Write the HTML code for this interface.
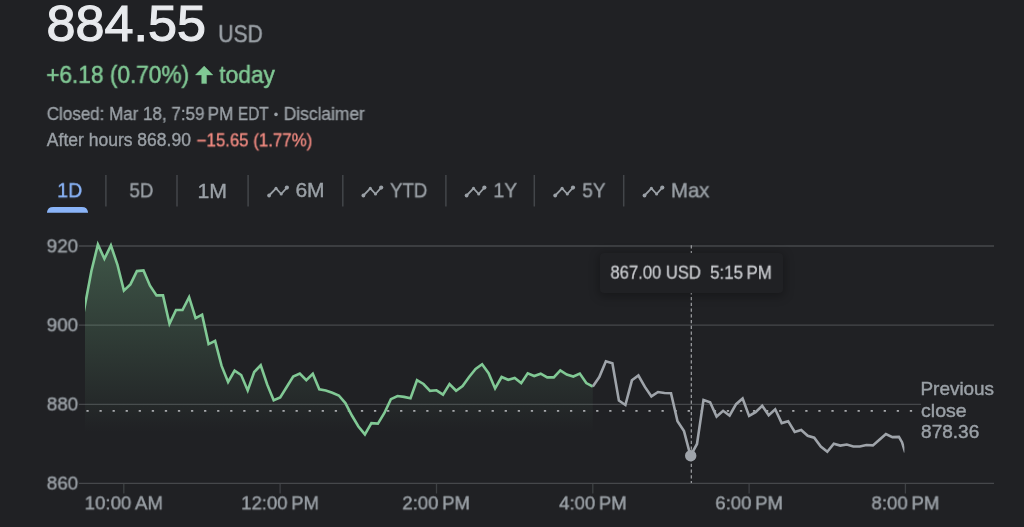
<!DOCTYPE html>
<html><head><meta charset="utf-8"><title>Stock</title>
<style>
html,body{margin:0;padding:0;background:#202124;}
body{width:1024px;height:527px;overflow:hidden;position:relative;font-family:"Liberation Sans",sans-serif;color:#9aa0a6;}
.t{will-change:transform;position:absolute;left:0;top:0;white-space:nowrap;line-height:1;transform-origin:0 0;}
svg{position:absolute;left:0;top:0;}
</style></head><body>
<svg width="1024" height="527" viewBox="0 0 1024 527">
<defs><linearGradient id="g" x1="0" y1="240" x2="0" y2="432" gradientUnits="userSpaceOnUse">
<stop offset="0" stop-color="#81c995" stop-opacity="0.32"/><stop offset="1" stop-color="#81c995" stop-opacity="0"/></linearGradient><clipPath id="cl"><rect x="85.1" y="230" width="900" height="260"/></clipPath><clipPath id="cr"><rect x="585" y="230" width="319.4" height="260"/></clipPath></defs>
<!-- grid -->
<g stroke="#46484b" stroke-width="1.3">
<line x1="79" y1="246" x2="994" y2="246"/>
<line x1="79" y1="325.1" x2="994" y2="325.1"/>
<line x1="79" y1="404.4" x2="921" y2="404.4"/>
<line x1="79" y1="483.4" x2="994" y2="483.4"/>
</g>
<g stroke="#3e4144" stroke-width="1.3">
<line x1="123.8" y1="484" x2="123.8" y2="493.5"/>
<line x1="280.1" y1="484" x2="280.1" y2="493.5"/>
<line x1="436.5" y1="484" x2="436.5" y2="493.5"/>
<line x1="592.8" y1="484" x2="592.8" y2="493.5"/>
<line x1="749.1" y1="484" x2="749.1" y2="493.5"/>
<line x1="905.4" y1="484" x2="905.4" y2="493.5"/>
</g>
<path clip-path="url(#cl)" d="M83.6 312.7 L84.8 306.2 L91.4 271.0 L97.9 244.5 L104.4 258.8 L110.9 245.5 L117.4 264.5 L123.9 290.6 L130.4 284.4 L136.9 271.1 L143.5 270.5 L150.0 285.7 L156.5 295.4 L163.0 295.4 L169.5 323.7 L176.0 310.0 L182.5 310.0 L189.1 297.1 L195.6 318.2 L202.1 314.7 L208.6 344.1 L215.1 340.9 L221.6 365.9 L228.1 382.0 L234.6 370.6 L241.2 375.0 L247.7 390.5 L254.2 372.0 L260.7 365.3 L267.2 384.5 L273.7 400.3 L280.2 397.4 L286.7 387.0 L293.2 376.5 L299.8 373.6 L306.3 380.2 L312.8 373.8 L319.3 389.3 L325.8 390.4 L332.3 392.7 L338.8 395.5 L345.4 403.1 L351.9 415.5 L358.4 426.5 L364.9 434.4 L371.4 423.1 L377.9 423.6 L384.4 413.0 L390.9 399.2 L397.5 396.0 L404.0 396.9 L410.5 398.3 L417.0 380.2 L423.5 384.0 L430.0 390.9 L436.5 390.3 L443.0 394.6 L449.5 384.0 L456.1 390.7 L462.6 386.1 L469.1 377.0 L475.6 369.0 L482.1 364.3 L488.6 373.2 L495.1 388.4 L501.6 377.0 L508.2 379.8 L514.7 378.0 L521.2 383.1 L527.7 373.3 L534.2 376.0 L540.7 373.7 L547.2 377.4 L553.8 377.4 L560.3 370.4 L566.8 374.6 L573.3 376.5 L579.8 373.6 L586.3 383.1 L592.8 386.5 L592.8 440 L83.6 440 Z" fill="url(#g)"/>
<rect x="86.35" y="409.9" width="2.4" height="1.8" rx="0.5" fill="#a9abae"/><rect x="99.42" y="409.9" width="2.4" height="1.8" rx="0.5" fill="#a9abae"/><rect x="112.49" y="409.9" width="2.4" height="1.8" rx="0.5" fill="#a9abae"/><rect x="125.56" y="409.9" width="2.4" height="1.8" rx="0.5" fill="#a9abae"/><rect x="138.63" y="409.9" width="2.4" height="1.8" rx="0.5" fill="#a9abae"/><rect x="151.70" y="409.9" width="2.4" height="1.8" rx="0.5" fill="#a9abae"/><rect x="164.77" y="409.9" width="2.4" height="1.8" rx="0.5" fill="#a9abae"/><rect x="177.84" y="409.9" width="2.4" height="1.8" rx="0.5" fill="#a9abae"/><rect x="190.91" y="409.9" width="2.4" height="1.8" rx="0.5" fill="#a9abae"/><rect x="203.98" y="409.9" width="2.4" height="1.8" rx="0.5" fill="#a9abae"/><rect x="217.05" y="409.9" width="2.4" height="1.8" rx="0.5" fill="#a9abae"/><rect x="230.12" y="409.9" width="2.4" height="1.8" rx="0.5" fill="#a9abae"/><rect x="243.19" y="409.9" width="2.4" height="1.8" rx="0.5" fill="#a9abae"/><rect x="256.26" y="409.9" width="2.4" height="1.8" rx="0.5" fill="#a9abae"/><rect x="269.33" y="409.9" width="2.4" height="1.8" rx="0.5" fill="#a9abae"/><rect x="282.40" y="409.9" width="2.4" height="1.8" rx="0.5" fill="#a9abae"/><rect x="295.47" y="409.9" width="2.4" height="1.8" rx="0.5" fill="#a9abae"/><rect x="308.54" y="409.9" width="2.4" height="1.8" rx="0.5" fill="#a9abae"/><rect x="321.61" y="409.9" width="2.4" height="1.8" rx="0.5" fill="#a9abae"/><rect x="334.68" y="409.9" width="2.4" height="1.8" rx="0.5" fill="#a9abae"/><rect x="347.75" y="409.9" width="2.4" height="1.8" rx="0.5" fill="#a9abae"/><rect x="360.82" y="409.9" width="2.4" height="1.8" rx="0.5" fill="#a9abae"/><rect x="373.89" y="409.9" width="2.4" height="1.8" rx="0.5" fill="#a9abae"/><rect x="386.96" y="409.9" width="2.4" height="1.8" rx="0.5" fill="#a9abae"/><rect x="400.03" y="409.9" width="2.4" height="1.8" rx="0.5" fill="#a9abae"/><rect x="413.10" y="409.9" width="2.4" height="1.8" rx="0.5" fill="#a9abae"/><rect x="426.17" y="409.9" width="2.4" height="1.8" rx="0.5" fill="#a9abae"/><rect x="439.24" y="409.9" width="2.4" height="1.8" rx="0.5" fill="#a9abae"/><rect x="452.31" y="409.9" width="2.4" height="1.8" rx="0.5" fill="#a9abae"/><rect x="465.38" y="409.9" width="2.4" height="1.8" rx="0.5" fill="#a9abae"/><rect x="478.45" y="409.9" width="2.4" height="1.8" rx="0.5" fill="#a9abae"/><rect x="491.52" y="409.9" width="2.4" height="1.8" rx="0.5" fill="#a9abae"/><rect x="504.59" y="409.9" width="2.4" height="1.8" rx="0.5" fill="#a9abae"/><rect x="517.66" y="409.9" width="2.4" height="1.8" rx="0.5" fill="#a9abae"/><rect x="530.73" y="409.9" width="2.4" height="1.8" rx="0.5" fill="#a9abae"/><rect x="543.80" y="409.9" width="2.4" height="1.8" rx="0.5" fill="#a9abae"/><rect x="556.87" y="409.9" width="2.4" height="1.8" rx="0.5" fill="#a9abae"/><rect x="569.94" y="409.9" width="2.4" height="1.8" rx="0.5" fill="#a9abae"/><rect x="583.01" y="409.9" width="2.4" height="1.8" rx="0.5" fill="#a9abae"/><rect x="596.08" y="409.9" width="2.4" height="1.8" rx="0.5" fill="#a9abae"/><rect x="609.15" y="409.9" width="2.4" height="1.8" rx="0.5" fill="#a9abae"/><rect x="622.22" y="409.9" width="2.4" height="1.8" rx="0.5" fill="#a9abae"/><rect x="635.29" y="409.9" width="2.4" height="1.8" rx="0.5" fill="#a9abae"/><rect x="648.36" y="409.9" width="2.4" height="1.8" rx="0.5" fill="#a9abae"/><rect x="661.43" y="409.9" width="2.4" height="1.8" rx="0.5" fill="#a9abae"/><rect x="674.50" y="409.9" width="2.4" height="1.8" rx="0.5" fill="#a9abae"/><rect x="687.57" y="409.9" width="2.4" height="1.8" rx="0.5" fill="#a9abae"/><rect x="700.64" y="409.9" width="2.4" height="1.8" rx="0.5" fill="#a9abae"/><rect x="713.71" y="409.9" width="2.4" height="1.8" rx="0.5" fill="#a9abae"/><rect x="726.78" y="409.9" width="2.4" height="1.8" rx="0.5" fill="#a9abae"/><rect x="739.85" y="409.9" width="2.4" height="1.8" rx="0.5" fill="#a9abae"/><rect x="752.92" y="409.9" width="2.4" height="1.8" rx="0.5" fill="#a9abae"/><rect x="765.99" y="409.9" width="2.4" height="1.8" rx="0.5" fill="#a9abae"/><rect x="779.06" y="409.9" width="2.4" height="1.8" rx="0.5" fill="#a9abae"/><rect x="792.13" y="409.9" width="2.4" height="1.8" rx="0.5" fill="#a9abae"/><rect x="805.20" y="409.9" width="2.4" height="1.8" rx="0.5" fill="#a9abae"/><rect x="818.27" y="409.9" width="2.4" height="1.8" rx="0.5" fill="#a9abae"/><rect x="831.34" y="409.9" width="2.4" height="1.8" rx="0.5" fill="#a9abae"/><rect x="844.41" y="409.9" width="2.4" height="1.8" rx="0.5" fill="#a9abae"/><rect x="857.48" y="409.9" width="2.4" height="1.8" rx="0.5" fill="#a9abae"/><rect x="870.55" y="409.9" width="2.4" height="1.8" rx="0.5" fill="#a9abae"/><rect x="883.62" y="409.9" width="2.4" height="1.8" rx="0.5" fill="#a9abae"/><rect x="896.69" y="409.9" width="2.4" height="1.8" rx="0.5" fill="#a9abae"/><rect x="909.76" y="409.9" width="2.4" height="1.8" rx="0.5" fill="#a9abae"/>
<line x1="691.3" y1="245.3" x2="691.3" y2="483" stroke="#a6a8ab" stroke-width="1.15" stroke-dasharray="3.2 2.55"/>
<path clip-path="url(#cl)" d="M83.6 312.7 L84.8 306.2 L91.4 271.0 L97.9 244.5 L104.4 258.8 L110.9 245.5 L117.4 264.5 L123.9 290.6 L130.4 284.4 L136.9 271.1 L143.5 270.5 L150.0 285.7 L156.5 295.4 L163.0 295.4 L169.5 323.7 L176.0 310.0 L182.5 310.0 L189.1 297.1 L195.6 318.2 L202.1 314.7 L208.6 344.1 L215.1 340.9 L221.6 365.9 L228.1 382.0 L234.6 370.6 L241.2 375.0 L247.7 390.5 L254.2 372.0 L260.7 365.3 L267.2 384.5 L273.7 400.3 L280.2 397.4 L286.7 387.0 L293.2 376.5 L299.8 373.6 L306.3 380.2 L312.8 373.8 L319.3 389.3 L325.8 390.4 L332.3 392.7 L338.8 395.5 L345.4 403.1 L351.9 415.5 L358.4 426.5 L364.9 434.4 L371.4 423.1 L377.9 423.6 L384.4 413.0 L390.9 399.2 L397.5 396.0 L404.0 396.9 L410.5 398.3 L417.0 380.2 L423.5 384.0 L430.0 390.9 L436.5 390.3 L443.0 394.6 L449.5 384.0 L456.1 390.7 L462.6 386.1 L469.1 377.0 L475.6 369.0 L482.1 364.3 L488.6 373.2 L495.1 388.4 L501.6 377.0 L508.2 379.8 L514.7 378.0 L521.2 383.1 L527.7 373.3 L534.2 376.0 L540.7 373.7 L547.2 377.4 L553.8 377.4 L560.3 370.4 L566.8 374.6 L573.3 376.5 L579.8 373.6 L586.3 383.1 L592.8 386.5" fill="none" stroke="#81c995" stroke-width="2.6" stroke-linejoin="miter" stroke-miterlimit="6"/>
<path clip-path="url(#cr)" d="M592.8 386.5 L599.3 377.1 L605.9 361.3 L612.4 363.2 L618.9 400.6 L625.4 405.0 L631.9 380.3 L638.4 375.5 L644.9 386.9 L651.4 396.4 L658.0 392.0 L664.5 393.0 L671.0 393.2 L677.5 421.3 L684.0 431.1 L690.5 455.8 L697.0 444.0 L703.5 400.0 L710.1 402.3 L716.6 416.5 L723.1 410.8 L729.6 415.5 L736.1 404.2 L742.6 398.5 L749.1 415.9 L755.6 412.1 L762.2 405.7 L768.7 415.2 L775.2 409.3 L781.7 423.1 L788.2 421.2 L794.7 432.0 L801.2 430.0 L807.7 435.8 L814.2 437.7 L820.8 446.5 L827.3 451.7 L833.8 443.7 L840.3 445.6 L846.8 444.5 L853.3 446.5 L859.8 446.5 L866.4 445.0 L872.9 445.4 L879.4 439.7 L885.9 434.0 L892.4 437.1 L898.9 436.9 L902.0 442.2 L904.0 448.6 L905.2 452.4" fill="none" stroke="#9fa4aa" stroke-width="2.6" stroke-linejoin="miter" stroke-miterlimit="6"/>
<circle cx="690.7" cy="455.8" r="5.7" fill="#9fa4aa"/>
<!-- tab separators -->
<g stroke="#43464a" stroke-width="1.5">
<line x1="105.9" y1="175" x2="105.9" y2="206.5"/>
<line x1="177" y1="175" x2="177" y2="206.5"/>
<line x1="248.1" y1="175" x2="248.1" y2="206.5"/>
<line x1="342.8" y1="175" x2="342.8" y2="206.5"/>
<line x1="445.9" y1="175" x2="445.9" y2="206.5"/>
<line x1="534.3" y1="175" x2="534.3" y2="206.5"/>
<line x1="623.7" y1="175" x2="623.7" y2="206.5"/>
</g>
<path d="M47 212.7 L47 212 Q47.6 207 53 206.9 L82 206.9 Q87.4 207 88 212 L88 212.7 Z" fill="#8ab4f8"/>
<path d="M269.1 195.5 L276.0 188.4 L281.2 194.0 L286.9 187.6" fill="none" stroke="#9aa0a6" stroke-width="1.8" stroke-linejoin="round"/><circle cx="269.1" cy="195.5" r="1.90" fill="#9aa0a6"/><circle cx="276.0" cy="188.4" r="1.60" fill="#9aa0a6"/><circle cx="281.2" cy="194.0" r="1.55" fill="#9aa0a6"/><circle cx="286.9" cy="187.6" r="2.10" fill="#9aa0a6"/><path d="M363.4 195.5 L370.3 188.4 L375.5 194.0 L381.2 187.6" fill="none" stroke="#9aa0a6" stroke-width="1.8" stroke-linejoin="round"/><circle cx="363.4" cy="195.5" r="1.90" fill="#9aa0a6"/><circle cx="370.3" cy="188.4" r="1.60" fill="#9aa0a6"/><circle cx="375.5" cy="194.0" r="1.55" fill="#9aa0a6"/><circle cx="381.2" cy="187.6" r="2.10" fill="#9aa0a6"/><path d="M466.6 195.5 L473.5 188.4 L478.7 194.0 L484.4 187.6" fill="none" stroke="#9aa0a6" stroke-width="1.8" stroke-linejoin="round"/><circle cx="466.6" cy="195.5" r="1.90" fill="#9aa0a6"/><circle cx="473.5" cy="188.4" r="1.60" fill="#9aa0a6"/><circle cx="478.7" cy="194.0" r="1.55" fill="#9aa0a6"/><circle cx="484.4" cy="187.6" r="2.10" fill="#9aa0a6"/><path d="M555.2 195.5 L562.1 188.4 L567.3 194.0 L573.0 187.6" fill="none" stroke="#9aa0a6" stroke-width="1.8" stroke-linejoin="round"/><circle cx="555.2" cy="195.5" r="1.90" fill="#9aa0a6"/><circle cx="562.1" cy="188.4" r="1.60" fill="#9aa0a6"/><circle cx="567.3" cy="194.0" r="1.55" fill="#9aa0a6"/><circle cx="573.0" cy="187.6" r="2.10" fill="#9aa0a6"/><path d="M644.5 195.5 L651.4 188.4 L656.6 194.0 L662.3 187.6" fill="none" stroke="#9aa0a6" stroke-width="1.8" stroke-linejoin="round"/><circle cx="644.5" cy="195.5" r="1.90" fill="#9aa0a6"/><circle cx="651.4" cy="188.4" r="1.60" fill="#9aa0a6"/><circle cx="656.6" cy="194.0" r="1.55" fill="#9aa0a6"/><circle cx="662.3" cy="187.6" r="2.10" fill="#9aa0a6"/>
<circle cx="276" cy="114.4" r="1.8" fill="#9aa0a6"/>
<!-- up arrow -->
<path d="M204.15 66.1 L212.9 74.95 L206.55 74.95 L206.55 83.6 L201.7 83.6 L201.7 74.95 L195.45 74.95 Z" fill="#81c995" stroke="#81c995" stroke-width="0.4" stroke-linejoin="round"/>
</svg>
<!-- tooltip -->
<div style="position:absolute;left:600px;top:253px;width:183px;height:40px;background:#202124;border-radius:4px;box-shadow:0 2px 10px 2px rgba(0,0,0,.26);"></div>
<div class="t" id="price" style="font-size:50.40px;color:#e8eaed;transform:translate(46.60px,-1.16px) scaleX(1.0343);-webkit-text-stroke:1.15px #e8eaed;">884.55</div>
<div class="t" id="usd" style="font-size:23.77px;color:#9aa0a6;transform:translate(218.23px,22.14px) scaleX(0.8875);-webkit-text-stroke:0.40px #9aa0a6;">USD</div>
<div class="t" id="chg" style="font-size:23.30px;color:#81c995;transform:translate(46.22px,63.83px) scaleX(0.9718);-webkit-text-stroke:0.50px #81c995;">+6.18 (0.70%)</div>
<div class="t" id="today" style="font-size:23.30px;color:#81c995;transform:translate(219.26px,63.88px) scaleX(0.9765);-webkit-text-stroke:0.50px #81c995;">today</div>
<div class="t" id="l1a" style="font-size:17.46px;color:#9aa0a6;transform:translate(46.80px,105.99px) scaleX(0.9735);-webkit-text-stroke:0.35px #9aa0a6;">Closed: Mar 18, 7:59&#8239;PM</div>
<div class="t" id="l1b" style="font-size:17.46px;color:#9aa0a6;transform:translate(237.94px,105.99px) scaleX(0.8782);-webkit-text-stroke:0.35px #9aa0a6;">EDT</div>
<div class="t" id="l1d" style="font-size:17.46px;color:#9aa0a6;transform:translate(283.67px,105.99px) scaleX(0.9971);-webkit-text-stroke:0.35px #9aa0a6;">Disclaimer</div>
<div class="t" id="l2a" style="font-size:17.46px;color:#9aa0a6;transform:translate(46.87px,132.32px) scaleX(1.0038);-webkit-text-stroke:0.35px #9aa0a6;">After hours 868.90</div>
<div class="t" id="l2b" style="font-size:17.46px;color:#f28b82;transform:translate(196.62px,132.32px) scaleX(0.9649);-webkit-text-stroke:0.35px #f28b82;">−15.65 (1.77%)</div>
<div class="t" id="t1" style="font-size:20.60px;color:#8ab4f8;transform:translate(57.18px,180.25px) scaleX(0.9483);-webkit-text-stroke:0.40px #8ab4f8;">1D</div>
<div class="t" id="t2" style="font-size:20.60px;color:#9aa0a6;transform:translate(129.42px,180.28px) scaleX(0.9082);-webkit-text-stroke:0.40px #9aa0a6;">5D</div>
<div class="t" id="t3" style="font-size:20.60px;color:#9aa0a6;transform:translate(197.53px,180.59px) scaleX(1.0315);-webkit-text-stroke:0.40px #9aa0a6;">1M</div>
<div class="t" id="t4" style="font-size:20.60px;color:#9aa0a6;transform:translate(295.40px,179.71px) scaleX(1.0216);-webkit-text-stroke:0.40px #9aa0a6;">6M</div>
<div class="t" id="t5" style="font-size:20.60px;color:#9aa0a6;transform:translate(390.00px,180.29px) scaleX(0.9067);-webkit-text-stroke:0.40px #9aa0a6;">YTD</div>
<div class="t" id="t6" style="font-size:20.60px;color:#9aa0a6;transform:translate(493.44px,180.24px) scaleX(0.9373);-webkit-text-stroke:0.40px #9aa0a6;">1Y</div>
<div class="t" id="t7" style="font-size:20.60px;color:#9aa0a6;transform:translate(582.29px,180.31px) scaleX(0.9208);-webkit-text-stroke:0.40px #9aa0a6;">5Y</div>
<div class="t" id="t8" style="font-size:20.60px;color:#9aa0a6;transform:translate(670.96px,180.26px) scaleX(0.9880);-webkit-text-stroke:0.40px #9aa0a6;">Max</div>
<div class="t" id="y1" style="font-size:19.14px;color:#9aa0a6;transform:translate(46.65px,236.32px) scaleX(0.9861);-webkit-text-stroke:0.45px #9aa0a6;">920</div>
<div class="t" id="y2" style="font-size:19.14px;color:#9aa0a6;transform:translate(46.65px,315.31px) scaleX(0.9856);-webkit-text-stroke:0.45px #9aa0a6;">900</div>
<div class="t" id="y3" style="font-size:19.14px;color:#9aa0a6;transform:translate(46.78px,394.49px) scaleX(0.9819);-webkit-text-stroke:0.45px #9aa0a6;">880</div>
<div class="t" id="y4" style="font-size:19.14px;color:#9aa0a6;transform:translate(46.76px,473.53px) scaleX(0.9834);-webkit-text-stroke:0.45px #9aa0a6;">860</div>
<div class="t" id="x1" style="font-size:19.18px;color:#9aa0a6;transform:translate(84.63px,493.34px) scaleX(0.9733);-webkit-text-stroke:0.45px #9aa0a6;">10:00&#8239;AM</div>
<div class="t" id="x2" style="font-size:19.18px;color:#9aa0a6;transform:translate(241.16px,493.34px) scaleX(0.9665);-webkit-text-stroke:0.45px #9aa0a6;">12:00&#8239;PM</div>
<div class="t" id="x3" style="font-size:19.18px;color:#9aa0a6;transform:translate(402.28px,493.33px) scaleX(0.9669);-webkit-text-stroke:0.45px #9aa0a6;">2:00&#8239;PM</div>
<div class="t" id="x4" style="font-size:19.18px;color:#9aa0a6;transform:translate(559.11px,493.39px) scaleX(0.9649);-webkit-text-stroke:0.45px #9aa0a6;">4:00&#8239;PM</div>
<div class="t" id="x5" style="font-size:19.18px;color:#9aa0a6;transform:translate(715.27px,493.37px) scaleX(0.9671);-webkit-text-stroke:0.45px #9aa0a6;">6:00&#8239;PM</div>
<div class="t" id="x6" style="font-size:19.18px;color:#9aa0a6;transform:translate(871.45px,493.40px) scaleX(0.9704);-webkit-text-stroke:0.45px #9aa0a6;">8:00&#8239;PM</div>
<div class="t" id="pc1" style="font-size:18.60px;color:#9aa0a6;transform:translate(920.50px,380.08px) scaleX(1.0171);-webkit-text-stroke:0.45px #9aa0a6;">Previous</div>
<div class="t" id="pc2" style="font-size:18.60px;color:#9aa0a6;transform:translate(921.03px,401.70px) scaleX(1.0500);-webkit-text-stroke:0.45px #9aa0a6;">close</div>
<div class="t" id="pc3" style="font-size:18.60px;color:#9aa0a6;transform:translate(921.08px,423.29px) scaleX(1.0228);-webkit-text-stroke:0.45px #9aa0a6;">878.36</div>
<div class="t" id="tt1" style="font-size:17.70px;color:#c9cbcf;transform:translate(610.45px,264.67px) scaleX(0.9387);-webkit-text-stroke:0.30px #c9cbcf;">867.00 USD</div>
<div class="t" id="tt2" style="font-size:17.70px;color:#c9cbcf;transform:translate(710.09px,264.70px) scaleX(0.9575);-webkit-text-stroke:0.30px #c9cbcf;">5:15&#8239;PM</div>
</body></html>
